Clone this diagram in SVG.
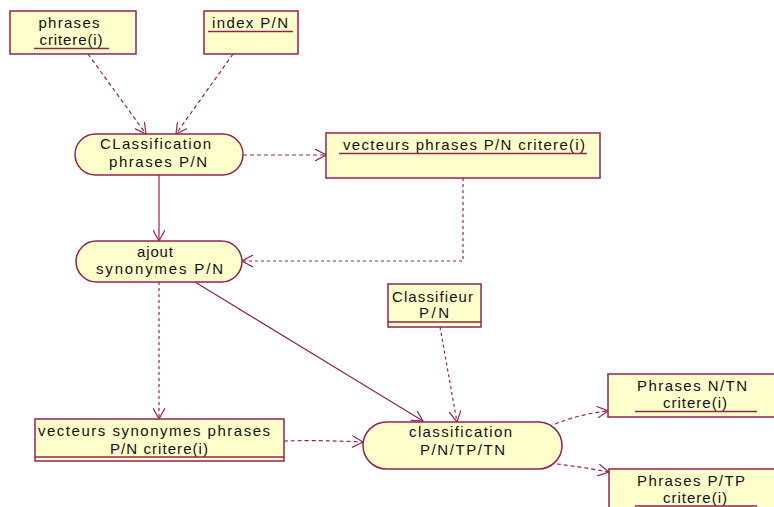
<svg xmlns="http://www.w3.org/2000/svg" width="774" height="507" viewBox="0 0 774 507">
<style>
.box{fill:#ffffcc;stroke:#8e2455;stroke-width:1.5}
.ln{fill:none;stroke:#8e2455;stroke-width:1.2}
.ul{stroke:#8e2455;stroke-width:1.3}
.dash{stroke-dasharray:4 3}
.dot{stroke-dasharray:3 3}
text{font-family:"Liberation Sans",Arial,sans-serif;font-size:15px;fill:#111;text-anchor:middle}
</style>
<defs>
<marker id="ah" viewBox="0 0 12 12" refX="11" refY="6" markerWidth="12" markerHeight="12" markerUnits="userSpaceOnUse" orient="auto">
<path d="M0,0 L11,6 L0,12" fill="none" stroke="#8e2455" stroke-width="1.2"/>
</marker>
</defs>
<rect width="774" height="507" fill="#ffffff"/>
<g id="connectors">
<line class="ln dash" x1="88" y1="54" x2="146" y2="134" marker-end="url(#ah)"/>
<line class="ln dash" x1="233" y1="54" x2="176" y2="134" marker-end="url(#ah)"/>
<line class="ln dash" x1="243" y1="155" x2="326" y2="155" marker-end="url(#ah)"/>
<line class="ln" x1="159" y1="175" x2="159" y2="241" marker-end="url(#ah)"/>
<polyline class="ln dot" points="463,178 463,261 242,261" marker-end="url(#ah)"/>
<line class="ln dot" x1="159" y1="282" x2="159" y2="419" marker-end="url(#ah)"/>
<line class="ln" x1="195" y1="282" x2="423" y2="421" marker-end="url(#ah)"/>
<line class="ln dot" x1="440" y1="327" x2="457" y2="422" marker-end="url(#ah)"/>
<path class="ln dash" d="M284,441 Q320,440 363,442" marker-end="url(#ah)"/>
<path class="ln dash" d="M555,424 Q580,414 608,411" marker-end="url(#ah)"/>
<path class="ln dash" d="M557,464 Q582,467 609,472" marker-end="url(#ah)"/>
</g>
<g id="phrases-critere">
<rect class="box" x="10" y="11" width="126" height="43"/>
<text x="69" y="28" textLength="61">phrases</text>
<text x="71" y="45" textLength="63">critere(i)</text>
<line class="ul" x1="34" y1="48.5" x2="109" y2="48.5"/>
</g>
<g id="index-pn">
<rect class="box" x="204" y="11" width="94" height="43"/>
<text x="250" y="28" textLength="76">index P/N</text>
<line class="ul" x1="208" y1="31.5" x2="293" y2="31.5"/>
</g>
<g id="classification-phrases">
<rect class="box" x="75" y="134" width="168" height="41" rx="20.5"/>
<text x="155.5" y="149" textLength="111">CLassification</text>
<text x="158" y="167" textLength="98">phrases P/N</text>
</g>
<g id="vecteurs-phrases">
<rect class="box" x="326" y="133" width="274" height="45"/>
<text x="464" y="150" textLength="242">vecteurs phrases P/N critere(i)</text>
<line class="ul" x1="339" y1="153.5" x2="587" y2="153.5"/>
</g>
<g id="ajout-synonymes">
<rect class="box" x="76" y="241" width="166" height="41" rx="20.5"/>
<text x="155" y="257" textLength="36">ajout</text>
<text x="159.5" y="274" textLength="127">synonymes P/N</text>
</g>
<g id="classifieur">
<rect class="box" x="388" y="284" width="93" height="43"/>
<text x="432.5" y="302" textLength="81">Classifieur</text>
<text x="434" y="318" textLength="30">P/N</text>
<line class="ul" x1="388" y1="322" x2="481" y2="322"/>
</g>
<g id="vecteurs-synonymes">
<rect class="box" x="35" y="419" width="249" height="42"/>
<text x="154" y="436" textLength="232">vecteurs synonymes phrases</text>
<text x="159" y="454" textLength="98">P/N critere(i)</text>
<line class="ul" x1="35" y1="457" x2="284" y2="457"/>
</g>
<g id="classification-pntptn">
<rect class="box" x="363" y="422" width="199" height="47" rx="23.5"/>
<text x="460.5" y="437" textLength="103">classification</text>
<text x="462.5" y="455" textLength="85">P/N/TP/TN</text>
</g>
<g id="phrases-ntn">
<rect class="box" x="608" y="374" width="172" height="43"/>
<text x="692" y="391" textLength="110">Phrases N/TN</text>
<text x="695" y="408" textLength="64">critere(i)</text>
<line class="ul" x1="635" y1="411.5" x2="757" y2="411.5"/>
</g>
<g id="phrases-ptp">
<rect class="box" x="609" y="469" width="171" height="48"/>
<text x="691" y="486" textLength="108">Phrases P/TP</text>
<text x="695" y="503" textLength="64">critere(i)</text>
<line class="ul" x1="635" y1="506" x2="757" y2="506"/>
</g>
</svg>
